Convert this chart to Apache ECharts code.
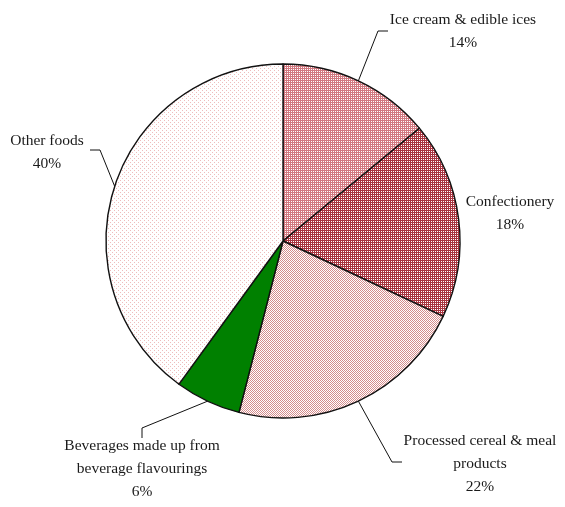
<!DOCTYPE html>
<html>
<head>
<meta charset="utf-8">
<script src="https://cdn.jsdelivr.net/npm/echarts@6/dist/echarts.min.js"></script>
<style>
  html, body { margin: 0; padding: 0; background: #ffffff; }
  #chart { width: 565px; height: 507px; }
</style>
</head>
<body>
<div id="chart"></div>
<script>
// Share of flavouring use by food category (%)
const categories = [
  'Ice cream & edible ices',
  'Confectionery',
  'Processed cereal & meal\nproducts',
  'Beverages made up from\nbeverage flavourings',
  'Other foods'
];
const shares = [14, 18, 22, 6, 40];

// Small repeating tiles that give each slice its hatched texture
function tile(w, h, bg, fg, cells) {
  const c = document.createElement('canvas');
  c.width = w; c.height = h;
  const g = c.getContext('2d');
  g.fillStyle = bg; g.fillRect(0, 0, w, h);
  g.fillStyle = fg;
  cells.forEach(([x, y]) => g.fillRect(x, y, 1, 1));
  return { image: c, repeat: 'repeat' };
}
const fills = [
  tile(2, 2, '#ffffff', '#d27880', [[0, 0], [1, 0], [0, 1]]),
  tile(2, 2, '#ffffff', '#a8343f', [[0, 0], [1, 0], [0, 1]]),
  tile(2, 2, '#ffffff', '#d48c8c', [[0, 0], [1, 1]]),
  '#008000',
  tile(4, 4, '#ffffff', '#eebcbc', [[0, 0], [2, 2]])
];

// Where each label sits, and the bend of its leader line
const labelSpots = [
  { x: 463, y: 31, bend: [378, 31], end: [388, 31] },
  { x: 510, y: 213, bend: null, end: null },
  { x: 480, y: 464, bend: [392, 462], end: [402, 462] },
  { x: 142, y: 469, bend: [142, 428], end: [142, 438] },
  { x: 47, y: 152, bend: [100, 150], end: [90, 150] }
];

const chart = echarts.init(document.getElementById('chart'), null, { renderer: 'canvas' });
chart.setOption({
  animation: false,
  backgroundColor: '#ffffff',
  series: [{
    type: 'pie',
    center: [283, 241],
    radius: [0, 177],
    startAngle: 90,
    clockwise: true,
    silent: true,
    itemStyle: { borderColor: '#111111', borderWidth: 1.4 },
    label: {
      show: true,
      position: 'outside',
      overflow: 'none',
      formatter: p => p.name + '\n' + p.value + '%',
      fontFamily: '"Liberation Serif", "Times New Roman", serif',
      fontSize: 15.5,
      lineHeight: 23,
      color: '#1a1a1a'
    },
    labelLine: {
      show: true,
      length: 20,
      length2: 10,
      lineStyle: { color: '#111111', width: 1 }
    },
    labelLayout: function (params) {
      const s = labelSpots[params.dataIndex];
      const out = { x: s.x, y: s.y, align: 'center', verticalAlign: 'middle', width: 200 };
      if (s.bend && params.labelLinePoints) {
        out.labelLinePoints = [params.labelLinePoints[0], s.bend, s.end];
      }
      return out;
    },
    data: categories.map((name, i) => ({
      name: name,
      value: shares[i],
      itemStyle: { color: fills[i] },
      labelLine: { show: labelSpots[i].bend !== null }
    }))
  }]
});
</script>
</body>
</html>
